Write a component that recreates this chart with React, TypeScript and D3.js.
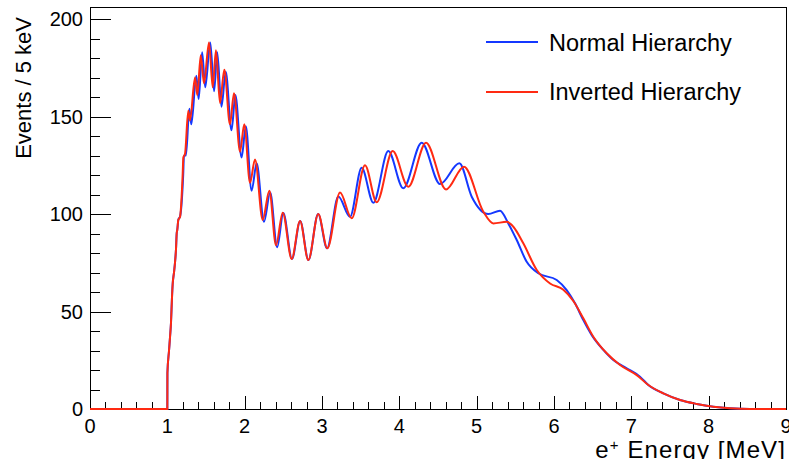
import React from "react";
import * as d3 from "d3";

// ---- Data ----
const energyNH = [0, 1.0, 1.001, 1.022, 1.035, 1.047, 1.06, 1.069, 1.086, 1.099, 1.112, 1.121, 1.129, 1.142, 1.166, 1.205, 1.215, 1.24, 1.285, 1.31, 1.375, 1.405, 1.45, 1.49, 1.555, 1.605, 1.645, 1.70, 1.755, 1.83, 1.88, 1.96, 2.015, 2.09, 2.155, 2.25, 2.33, 2.42, 2.50, 2.612, 2.718, 2.825, 2.95, 3.065, 3.211, 3.362, 3.513, 3.664, 3.857, 4.051, 4.289, 4.526, 4.776, 4.936, 5.151, 5.302, 5.409, 5.518, 5.647, 5.797, 6.035, 6.164, 6.272, 6.379, 6.488, 6.638, 6.767, 6.94, 7.112, 7.22, 7.414, 7.63, 7.846, 8.06, 8.276, 8.53, 9.0];
const valuesNH = [0, 0, 18.5, 30, 37, 44, 57, 64, 70, 75, 82, 90, 92, 97, 99, 120, 130, 130, 154, 146, 171, 159, 183, 165, 188, 163, 183, 155, 173, 143, 161, 129, 145, 112, 126, 96, 111, 83, 100.5, 77, 96.4, 76.4, 100, 82.4, 109, 98.6, 123.7, 105.8, 132.3, 113.2, 136.6, 115.4, 126, 108.9, 100, 101.7, 95.2, 86.7, 75.5, 69.6, 66.2, 61.0, 54.2, 45.6, 37.9, 30.3, 25.1, 20.9, 16.6, 12.3, 8.0, 4.6, 2.6, 1.2, 0.4, 0, 0];

const energyIH = [0, 1.0, 1.001, 1.022, 1.035, 1.047, 1.06, 1.069, 1.086, 1.099, 1.112, 1.121, 1.129, 1.142, 1.164, 1.199, 1.207, 1.229, 1.271, 1.293, 1.358, 1.388, 1.432, 1.474, 1.539, 1.587, 1.629, 1.681, 1.737, 1.81, 1.862, 1.94, 1.995, 2.069, 2.134, 2.233, 2.319, 2.405, 2.492, 2.608, 2.716, 2.823, 2.952, 3.069, 3.233, 3.384, 3.556, 3.707, 3.914, 4.116, 4.345, 4.604, 4.836, 5.086, 5.215, 5.389, 5.474, 5.603, 5.777, 5.949, 6.121, 6.25, 6.379, 6.508, 6.682, 6.854, 7.07, 7.22, 7.414, 7.63, 7.846, 8.06, 8.276, 8.53, 9.0];
const valuesIH = [0, 0, 18.5, 30, 37, 44, 57, 64, 70, 75, 82, 90, 92, 97, 98.5, 121, 129, 131, 153, 148, 170, 161, 181.5, 167, 188, 165, 184, 157, 174, 146, 162, 132, 146, 116, 128, 97, 112, 84, 100.7, 77, 96.4, 76.4, 100, 82.4, 111, 97.8, 125, 106, 132.3, 114, 136.6, 112.6, 124.3, 101.2, 95.2, 96.0, 93.5, 85.0, 71.3, 64.4, 61.2, 55.4, 46.5, 37.1, 28.6, 22.6, 17.4, 12.3, 8.0, 4.6, 2.6, 1.2, 0.4, 0, 0];

const seriesNames = ["Normal Hierarchy", "Inverted Hierarchy"];
const xMajorTicks = [0, 1, 2, 3, 4, 5, 6, 7, 8, 9];
const yMajorTicks = [0, 50, 100, 150, 200];
const xTitle = "Energy [MeV]";
const yTitle = "Events / 5 keV";

// ---- Layout ----
const W = 789;
const H = 459;
const L = 90;
const R = 786;
const T = 7;
const B = 409;
const FONT = "'Liberation Sans', Arial, Helvetica, sans-serif";
const BLUE = "#1438ff";
const RED = "#ff2a12";

export default function App() {
  const x = d3.scaleLinear().domain([0, 9]).range([L, R]);
  const y = d3.scaleLinear().domain([0, 206.2]).range([B, T]);

  const line = d3
    .line<[number, number]>()
    .x((d) => x(d[0]))
    .y((d) => y(d[1]))
    .curve(d3.curveMonotoneX);

  const nh = d3.zip(energyNH, valuesNH) as [number, number][];
  const ih = d3.zip(energyIH, valuesIH) as [number, number][];

  const xMinor = d3.range(0, 9.0001, 0.2).filter((v) => Math.abs(v - Math.round(v)) > 1e-6);
  const yMinor = d3.range(0, 200.001, 10).filter((v) => v % 50 !== 0);

  return (
    <svg
      width={W}
      height={H}
      style={{ position: "absolute", left: 0, top: 0, background: "#fff" }}
      fontFamily={FONT}
    >
      <rect x={0} y={0} width={W} height={H} fill="#fff" />
      {/* frame */}
      <rect x={L} y={T} width={R - L} height={B - T} fill="none" stroke="#000" strokeWidth={1} shapeRendering="crispEdges" />

      {/* ticks */}
      <g stroke="#000" strokeWidth={1} shapeRendering="crispEdges">
        {yMajorTicks.map((t) => (
          <line key={"ym" + t} x1={L} x2={L + 21} y1={Math.round(y(t)) + 0.5} y2={Math.round(y(t)) + 0.5} />
        ))}
        {yMinor.map((t) => (
          <line key={"yn" + t} x1={L} x2={L + 10} y1={Math.round(y(t)) + 0.5} y2={Math.round(y(t)) + 0.5} />
        ))}
        {xMajorTicks.map((t) => (
          <line key={"xm" + t} x1={Math.round(x(t)) + 0.5} x2={Math.round(x(t)) + 0.5} y1={B} y2={B - 13} />
        ))}
        {xMinor.map((t) => (
          <line key={"xn" + t} x1={Math.round(x(t)) + 0.5} x2={Math.round(x(t)) + 0.5} y1={B} y2={B - 7} />
        ))}
      </g>

      {/* y tick labels */}
      <g fontSize={20} fill="#000" textAnchor="end">
        {yMajorTicks.map((t) => (
          <text key={"yl" + t} x={83} y={y(t) + 7}>
            {t}
          </text>
        ))}
      </g>
      {/* x tick labels */}
      <g fontSize={20} fill="#000" textAnchor="middle">
        {xMajorTicks.map((t) => (
          <text key={"xl" + t} x={x(t)} y={433}>
            {t}
          </text>
        ))}
      </g>

      {/* axis titles */}
      <text x={R} y={458} fontSize={24} letterSpacing={1.1} textAnchor="end" fill="#000">
        e<tspan dy={-8} fontSize={15}>+</tspan>
        <tspan dy={8}> {xTitle}</tspan>
      </text>
      <text
        transform={`translate(31, 17) rotate(-90)`}
        fontSize={22}
        textAnchor="end"
        fill="#000"
      >
        {yTitle}
      </text>

      {/* curves */}
      <path d={line(nh) || ""} fill="none" stroke={BLUE} strokeWidth={2} />
      <path d={line(ih) || ""} fill="none" stroke={RED} strokeWidth={2} />

      {/* legend */}
      <line x1={486} x2={538} y1={42} y2={42} stroke={BLUE} strokeWidth={2} />
      <text x={549} y={51} fontSize={23.5} fill="#000">
        {seriesNames[0]}
      </text>
      <line x1={486} x2={538} y1={92} y2={92} stroke={RED} strokeWidth={2} />
      <text x={549} y={100} fontSize={23.5} fill="#000">
        {seriesNames[1]}
      </text>
    </svg>
  );
}
